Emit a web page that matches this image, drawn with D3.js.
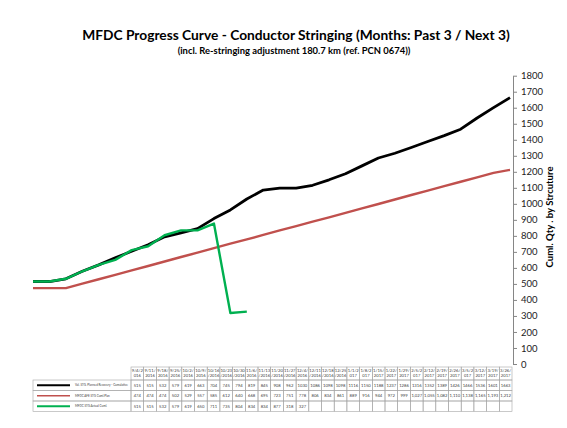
<!DOCTYPE html>
<html>
<head>
<meta charset="utf-8">
<script src="https://cdn.jsdelivr.net/npm/d3@7/dist/d3.min.js"></script>
<style>
  body { margin: 0; background: #fff; }
  svg { display: block; font-family: Lato, "Open Sans", sans-serif; }
</style>
</head>
<body>
<svg id="chart"></svg>
<script>
const dates = [
  "9/4/2016", "9/11/2016", "9/18/2016", "9/25/2016", "10/2/2016", "10/9/2016",
  "10/16/2016", "10/23/2016", "10/30/2016", "11/6/2016", "11/13/2016", "11/20/2016",
  "11/27/2016", "12/4/2016", "12/11/2016", "12/18/2016", "12/25/2016", "1/1/2017",
  "1/8/2017", "1/15/2017", "1/22/2017", "1/29/2017", "2/5/2017", "2/12/2017",
  "2/19/2017", "2/26/2017", "3/5/2017", "3/12/2017", "3/19/2017", "3/26/2017",
];

const plannedRecovery = [
  515, 515, 532, 579, 619, 663, 704, 745, 794, 819, 845, 908, 962, 1030, 1086,
  1098, 1098, 1116, 1150, 1188, 1237, 1286, 1316, 1352, 1389, 1426, 1466, 1536, 1601, 1663,
];

const afePlan = [
  474, 474, 474, 502, 529, 557, 585, 612, 640, 668, 695, 723, 751, 778, 806,
  834, 861, 889, 916, 944, 972, 999, 1027, 1055, 1082, 1110, 1138, 1165, 1193, 1212,
];

const actualCuml = [515, 515, 532, 579, 619, 650, 711, 735, 804, 834, 834, 877, 318, 327];

const seriesNames = [
  "Val. STG. Planned Recovery - Cumulative",
  "MFDC AFE STG Cuml.Plan",
  "MFDC STG Actual Cuml.",
];

const yTicks = [0, 100, 200, 300, 400, 500, 600, 700, 800, 900, 1000, 1100, 1200, 1300, 1400, 1500, 1600, 1700, 1800];

const colors = ["#000000", "#c0504d", "#00b050"];

const width = 567, height = 428;

const svg = d3.select("#chart").attr("width", width).attr("height", height);
svg.append("rect").attr("width", width).attr("height", height).attr("fill", "#fff");

// squeeze a text to a given width
const fitWidth = (sel, w) => {
  const len = sel.node().getComputedTextLength();
  const fs = parseFloat(sel.attr("font-size"));
  sel.attr("font-size", (fs * w) / len);
  return (fs * w) / len;
};

// titles
const title = svg.append("text")
  .attr("x", 296).attr("y", 40)
  .attr("text-anchor", "middle")
  .attr("font-size", 14).attr("font-weight", "bold").attr("fill", "#000")
  .text("MFDC Progress Curve - Conductor Stringing (Months: Past 3 / Next 3)");
fitWidth(title, 428);

const subtitle = svg.append("text")
  .attr("x", 294).attr("y", 54)
  .attr("text-anchor", "middle")
  .attr("font-size", 10).attr("font-weight", "bold").attr("fill", "#000")
  .text("(incl. Re-stringing adjustment 180.7 km (ref. PCN 0674))");
fitWidth(subtitle, 233);

// scales
const x = d3.scalePoint().domain(dates).range([33, 510]);
const y = d3.scaleLinear().domain([0, 1800]).range([364, 75.7]);

// right axis
const yAxis = svg.append("g")
  .attr("transform", "translate(513,0)")
  .call(
    d3.axisRight(y)
      .tickValues(yTicks)
      .tickFormat(d3.format("d"))
      .tickSizeInner(4)
      .tickSizeOuter(0)
      .tickPadding(4)
  );
yAxis.select(".domain").attr("stroke", "#868686");
yAxis.selectAll(".tick line").attr("stroke", "#868686");
yAxis.selectAll(".tick text")
  .attr("font-family", "Lato, sans-serif")
  .attr("font-size", 9.5)
  .attr("fill", "#222");

const yTitle = svg.append("text")
  .attr("transform", "translate(553,217) rotate(-90)")
  .attr("text-anchor", "middle")
  .attr("font-size", 9).attr("font-weight", "bold").attr("fill", "#000")
  .text("Cuml. Qty . by Strcuture");
fitWidth(yTitle, 101);

// lines
const line = d3.line()
  .x((d, i) => x(dates[i]))
  .y((d) => y(d));

[plannedRecovery, afePlan, actualCuml].forEach((data, i) => {
  svg.append("path")
    .datum(data)
    .attr("fill", "none")
    .attr("stroke", colors[i])
    .attr("stroke-width", i === 0 ? 2.8 : 2.4)
    .attr("stroke-linejoin", "round")
    .attr("d", line);
});

// data table
const col = d3.scaleBand().domain(dates).range([131, 512]);
const legendLeft = 33;
const rowTop = [367, 380, 390.5, 401, 411.5];
const grid = "#a6a6a6";
const tableFont = 4.2;

const table = svg.append("g");

// header cells (dates, wrapped like the sheet does)
dates.forEach((d) => {
  const cx = col(d);
  table.append("rect")
    .attr("x", cx).attr("y", rowTop[0])
    .attr("width", col.bandwidth()).attr("height", rowTop[1] - rowTop[0])
    .attr("fill", "none").attr("stroke", grid).attr("stroke-width", 0.6);
  [d.slice(0, 5), d.slice(5)].forEach((part, k) => {
    table.append("text")
      .attr("x", cx + col.bandwidth() / 2)
      .attr("y", rowTop[0] + 5.2 + k * 5.2)
      .attr("text-anchor", "middle")
      .attr("font-size", tableFont).attr("fill", "#404040")
      .text(part);
  });
});

const rows = [
  { values: plannedRecovery, fmt: d3.format("d") },
  { values: afePlan, fmt: d3.format(",") },
  { values: actualCuml, fmt: d3.format("d") },
];

let legendFont = null;

rows.forEach((r, ri) => {
  const top = rowTop[ri + 1], bottom = rowTop[ri + 2];
  const mid = (top + bottom) / 2;

  // legend cell
  table.append("rect")
    .attr("x", legendLeft).attr("y", top)
    .attr("width", col(dates[0]) - legendLeft).attr("height", bottom - top)
    .attr("fill", "none").attr("stroke", grid).attr("stroke-width", 0.6);
  table.append("line")
    .attr("x1", 37).attr("x2", 70).attr("y1", mid).attr("y2", mid)
    .attr("stroke", colors[ri]).attr("stroke-width", ri === 1 ? 1.5 : 2.2);
  const lt = table.append("text")
    .attr("x", 75).attr("y", mid + 1.2)
    .attr("font-size", legendFont || 4).attr("fill", "#404040")
    .text(seriesNames[ri]);
  if (ri === 0) legendFont = fitWidth(lt, 53);

  // value cells
  dates.forEach((d, i) => {
    table.append("rect")
      .attr("x", col(d)).attr("y", top)
      .attr("width", col.bandwidth()).attr("height", bottom - top)
      .attr("fill", "none").attr("stroke", grid).attr("stroke-width", 0.6);
    if (r.values[i] !== undefined) {
      table.append("text")
        .attr("x", col(d) + col.bandwidth() / 2)
        .attr("y", mid + 1.5)
        .attr("text-anchor", "middle")
        .attr("font-size", tableFont).attr("fill", "#404040")
        .text(r.fmt(r.values[i]));
    }
  });
});
</script>
</body>
</html>
